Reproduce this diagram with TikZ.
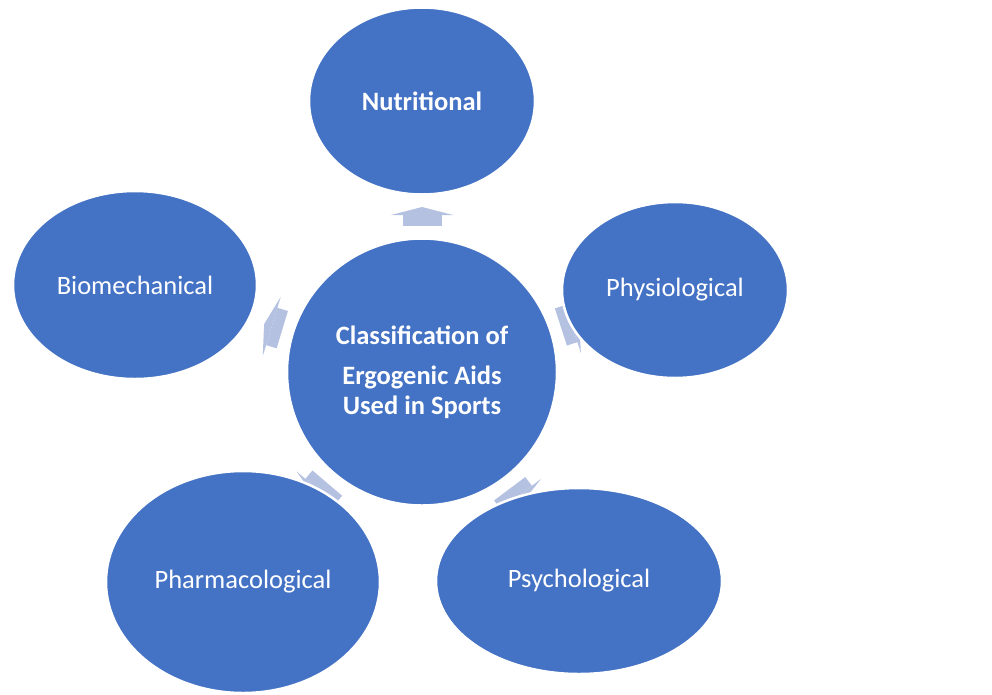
\documentclass[tikz,border=0pt]{standalone}
\usepackage{fontspec}
\setmainfont{Carlito}
\usetikzlibrary{shapes.geometric,arrows.meta,calc,backgrounds}
\definecolor{bubbleblue}{HTML}{4472C4}
\definecolor{spokeblue}{HTML}{B4C1E1}

\begin{document}
\begin{tikzpicture}[
    x=1pt, y=-1pt,
    every node/.style={font=\fontsize{26.5}{30}\selectfont, align=center, text=white},
    bubble/.style={ellipse, fill=bubbleblue, draw=white, line width=2.5pt, inner sep=0pt},
    title/.style={font=\bfseries\fontsize{26.5}{30}\selectfont},
    spoke/.style={draw=spokeblue, line width=39pt, -{Triangle[width=62pt, length=8pt, line width=0pt]}}
]
\useasboundingbox (0,0) rectangle (992,694);

\node[bubble, title, minimum width=270pt, minimum height=267pt] (c) at (422,372) {Classification of\\[10pt]Ergogenic Aids\\Used in Sports};

\node[bubble, title, minimum width=226pt, minimum height=187pt] (n) at (422,101) {Nutritional};
\node[bubble, minimum width=226pt, minimum height=176pt] (p) at (675,290) {Physiological};
\node[bubble, minimum width=286pt, minimum height=186pt] (s) at (579,581) {Psychological};
\node[bubble, minimum width=274pt, minimum height=222pt] (h) at (243,582) {Pharmacological};
\node[bubble, minimum width=244pt, minimum height=188pt] (b) at (135,285) {Biomechanical};

\begin{scope}[on background layer]
\foreach \o in {n,p,s,h,b}
  \draw[spoke] ($(c)!146pt!(\o)$) -- ($(c)!165pt!(\o)$);
\end{scope}

\end{tikzpicture}
\end{document}
